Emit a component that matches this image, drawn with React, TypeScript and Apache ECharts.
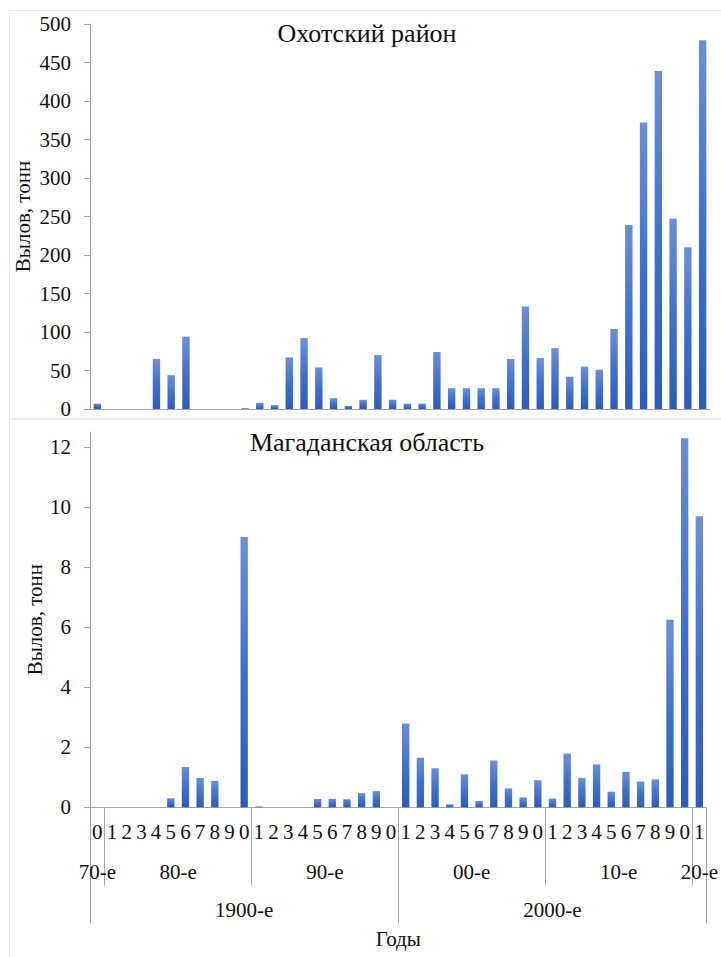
import React, { useEffect, useRef } from 'react';
import * as echarts from 'echarts';

// Years (decades counted as x1..x0, e.g. 1981–1990 = "80-е")
const years = [
  1980, 1981, 1982, 1983, 1984, 1985, 1986, 1987, 1988, 1989,
  1990, 1991, 1992, 1993, 1994, 1995, 1996, 1997, 1998, 1999,
  2000, 2001, 2002, 2003, 2004, 2005, 2006, 2007, 2008, 2009,
  2010, 2011, 2012, 2013, 2014, 2015, 2016, 2017, 2018, 2019,
  2020, 2021,
];

// Охотский район, catch in tonnes
const okhotsk = [
  7, 0, 0, 0, 65, 44, 94, 0, 0, 0,
  1, 8, 5, 67, 92, 54, 14, 4, 12, 70,
  12, 7, 7, 74, 27, 27, 27, 27, 65, 133,
  66, 79, 42, 55, 51, 104, 239, 372, 439, 247,
  210, 479,
];

// Магаданская область, catch in tonnes
const magadan = [
  0, 0, 0, 0, 0, 0.3, 1.34, 0.98, 0.88, 0,
  9.0, 0.03, 0, 0, 0, 0.28, 0.28, 0.27, 0.47, 0.54,
  0, 2.79, 1.65, 1.3, 0.1, 1.1, 0.21, 1.56, 0.63, 0.33,
  0.9, 0.29, 1.79, 0.98, 1.43, 0.52, 1.18, 0.86, 0.93, 6.25,
  12.29, 9.69,
];

const okhotskTicks = [0, 50, 100, 150, 200, 250, 300, 350, 400, 450, 500];
const magadanTicks = [0, 2, 4, 6, 8, 10, 12];

const titleTop = 'Охотский район';
const titleBottom = 'Магаданская область';
const yName = 'Вылов, тонн';
const xName = 'Годы';

const decadeOf = (y: number) => Math.floor((y - 1) / 10) * 10;
const centuryOf = (y: number) => Math.floor((y - 1) / 100) * 100;
const decadeLabel = (d: number) => String(d % 100).padStart(2, '0') + '-е';
const centuryLabel = (c: number) => `${c}-е`;

function groups(keyOf: (y: number) => number, labelOf: (k: number) => string) {
  const out: { start: number; end: number; label: string }[] = [];
  years.forEach((y, i) => {
    const k = keyOf(y);
    const last = out[out.length - 1];
    if (last && last.label === labelOf(k)) last.end = i + 1;
    else out.push({ start: i, end: i + 1, label: labelOf(k) });
  });
  return out;
}

const FONT = 'Liberation Serif';
const TEXT = '#111';
const AXIS = '#a6a6a6';

export default function App() {
  const ref = useRef<HTMLDivElement>(null);
  useEffect(() => {
    if (!ref.current) return;
    const chart = echarts.init(ref.current, undefined, { renderer: 'svg' });
    const n = years.length;
    const decs = groups(decadeOf, decadeLabel);
    const cents = groups(centuryOf, centuryLabel);
    const bounds = (g: typeof decs) => {
      const b = g.map((x) => x.start);
      b.push(n);
      return b;
    };
    const centers = (g: typeof decs) => g.map((x) => (x.start + x.end) / 2);
    const labelAt = (g: typeof decs) => (v: number) => {
      const f = g.find((x) => Math.abs((x.start + x.end) / 2 - v) < 1e-6);
      return f ? f.label : '';
    };

    const barColor = new echarts.graphic.LinearGradient(0, 0, 0, 1, [
      { offset: 0, color: '#6b8fd8' },
      { offset: 0.5, color: '#4071cf' },
      { offset: 1, color: '#2c5cbb' },
    ]);

    const txt = { fontFamily: FONT, color: TEXT };

    chart.setOption({
      animation: false,
      backgroundColor: '#fff',
      textStyle: { fontFamily: FONT, color: TEXT },
      graphic: [
        { type: 'rect', shape: { x: 9.5, y: 10.5, width: 730, height: 408.5 }, style: { fill: 'none', stroke: '#e6e6e6', lineWidth: 1 } },
        { type: 'rect', shape: { x: 9.5, y: 419, width: 730, height: 600 }, style: { fill: 'none', stroke: '#e6e6e6', lineWidth: 1 } },
        { type: 'text', x: 367, y: 33, style: { text: titleTop, fontFamily: FONT, fontSize: 26, fill: TEXT, align: 'center', verticalAlign: 'middle' } },
        { type: 'text', x: 367, y: 442, style: { text: titleBottom, fontFamily: FONT, fontSize: 26, fill: TEXT, align: 'center', verticalAlign: 'middle' } },
      ],
      grid: [
        { left: 90, right: 11, top: 24, height: 385 },
        { left: 90, right: 11, top: 432, height: 375.3 },
      ],
      xAxis: [
        {
          type: 'category', gridIndex: 0, position: 'bottom', data: years.map(String),
          axisLine: { lineStyle: { color: AXIS } },
          axisTick: { interval: 0, length: 8, lineStyle: { color: AXIS } },
          axisLabel: { show: false },
        },
        {
          type: 'category', gridIndex: 1, position: 'bottom', data: years.map(String),
          axisLine: { lineStyle: { color: AXIS } },
          axisTick: { interval: 0, length: 36, lineStyle: { color: AXIS } },
          axisLabel: { interval: 0, margin: 14, fontSize: 21, ...txt, formatter: (v: string) => v.slice(-1) },
          name: xName, nameLocation: 'middle', nameGap: 121, nameMoveOverlap: false,
          nameTextStyle: { fontSize: 21, ...txt },
        },
        {
          type: 'value', gridIndex: 1, position: 'bottom', min: 0, max: n,
          axisLine: { show: false }, splitLine: { show: false },
          axisTick: { show: true, customValues: bounds(decs), length: 78, lineStyle: { color: AXIS } },
          axisLabel: { customValues: centers(decs), margin: 54, fontSize: 21, ...txt, formatter: labelAt(decs) },
        },
        {
          type: 'value', gridIndex: 1, position: 'bottom', min: 0, max: n,
          axisLine: { show: false }, splitLine: { show: false },
          axisTick: { show: true, customValues: bounds(cents), length: 116, lineStyle: { color: AXIS } },
          axisLabel: { customValues: centers(cents), margin: 92, fontSize: 21, ...txt, formatter: labelAt(cents) },
        },
      ],
      yAxis: [
        {
          type: 'value', gridIndex: 0, min: 0, max: 500,
          axisLine: { show: true, onZero: false, lineStyle: { color: AXIS } },
          axisTick: { show: true, length: 6, customValues: okhotskTicks, lineStyle: { color: AXIS } },
          axisLabel: { customValues: okhotskTicks, margin: 19, fontSize: 21, ...txt },
          splitLine: { show: false },
          name: yName, nameLocation: 'middle', nameGap: 57, nameMoveOverlap: false,
          nameTextStyle: { fontSize: 21, ...txt },
        },
        {
          type: 'value', gridIndex: 1, min: 0, max: 12.5,
          axisLine: { show: true, onZero: false, lineStyle: { color: AXIS } },
          axisTick: { show: true, length: 6, customValues: magadanTicks, lineStyle: { color: AXIS } },
          axisLabel: { customValues: magadanTicks, margin: 19, fontSize: 21, ...txt },
          splitLine: { show: false },
          name: yName, nameLocation: 'middle', nameGap: 45, nameMoveOverlap: false,
          nameTextStyle: { fontSize: 21, ...txt },
        },
      ],
      series: [
        { type: 'bar', xAxisIndex: 0, yAxisIndex: 0, data: okhotsk, barWidth: '50%', itemStyle: { color: barColor } },
        { type: 'bar', xAxisIndex: 1, yAxisIndex: 1, data: magadan, barWidth: '50%', itemStyle: { color: barColor } },
      ],
    });
    return () => chart.dispose();
  }, []);
  return <div ref={ref} style={{ position: 'fixed', left: 0, top: 0, width: 721, height: 957 }} />;
}
